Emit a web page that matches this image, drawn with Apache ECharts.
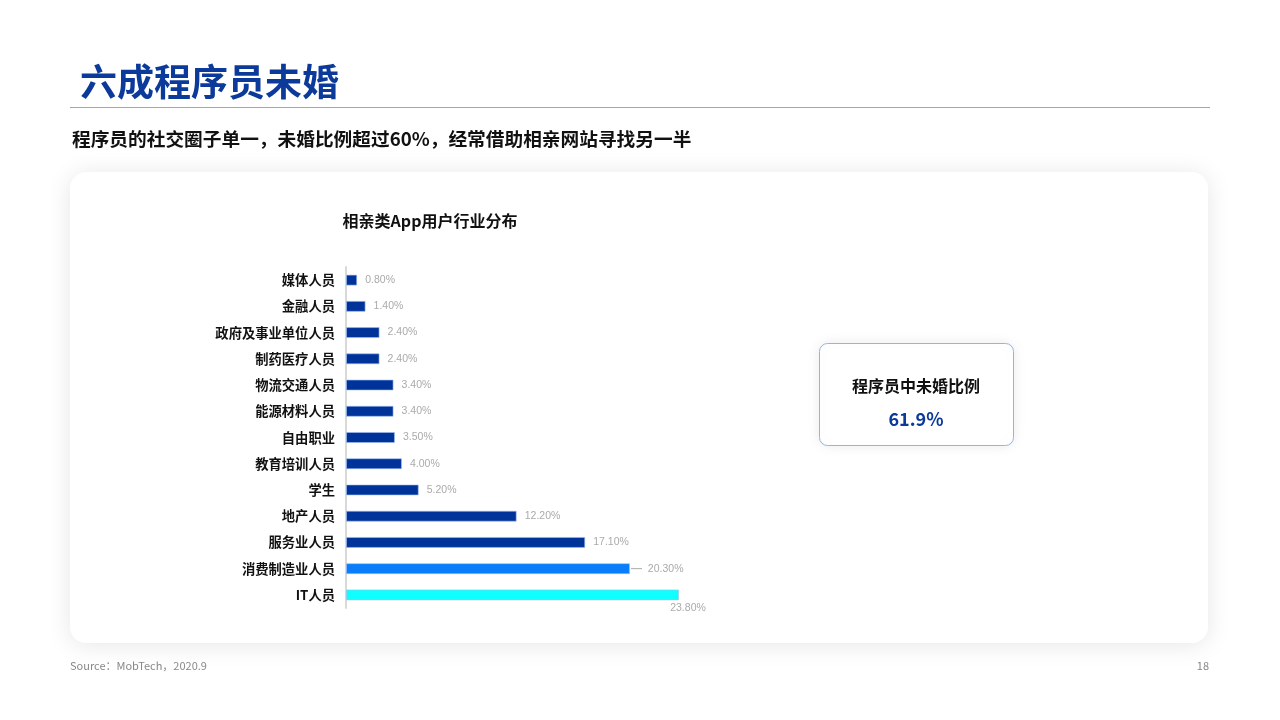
<!DOCTYPE html>
<html>
<head>
<meta charset="utf-8">
<script src="https://cdn.jsdelivr.net/npm/echarts@6/dist/echarts.min.js"></script>
<style>
html,body{margin:0;padding:0;background:#fff;}
#c{width:1280px;height:720px;}
</style>
</head>
<body>
<div id="c"></div>
<script>
const categories = ['媒体人员','金融人员','政府及事业单位人员','制药医疗人员','物流交通人员','能源材料人员','自由职业','教育培训人员','学生','地产人员','服务业人员','消费制造业人员','IT人员'];
const values = [0.8,1.4,2.4,2.4,3.4,3.4,3.5,4.0,5.2,12.2,17.1,20.3,23.8];
const barColors = ['#003399','#003399','#003399','#003399','#003399','#003399','#003399','#003399','#003399','#003399','#003399','#0A7DFA','#0FFFFF'];
const pageTitle = '六成程序员未婚';
const subTitle = '程序员的社交圈子单一，未婚比例超过60%，经常借助相亲网站寻找另一半';
const chartTitle = '相亲类App用户行业分布';
const boxLabel = '程序员中未婚比例';
const boxValue = '61.9%';
const sourceText = 'Source：MobTech，2020.9';
const pageNum = '18';

const FONT = '"Noto Sans CJK SC","Microsoft YaHei",sans-serif';

const data = values.map((v, i) => {
  const item = { value: v, itemStyle: { color: barColors[i], borderColor: 'rgba(160,190,240,0.6)', borderWidth: 1 } };
  if (categories[i] === '消费制造业人员') {
    item.label = { formatter: '{ln|}  {t|' + v.toFixed(2) + '%}', distance: 1 };
  }
  if (categories[i] === 'IT人员') {
    item.label = { position: ['100%', '100%'], align: 'center', verticalAlign: 'top', offset: [9, 2] };
  }
  return item;
});

const chart = echarts.init(document.getElementById('c'));
chart.setOption({
  animation: false,
  backgroundColor: '#fff',
  graphic: [
    { type: 'rect', z: -10, shape: { x: 70, y: 172, width: 1138, height: 471, r: 16 },
      style: { fill: '#fff', shadowBlur: 24, shadowColor: 'rgba(0,0,0,0.10)', shadowOffsetY: 2 } },
    { type: 'text', x: 80, y: 82, style: { text: pageTitle, font: 'bold 37px ' + FONT, fill: '#0B3A9A', textVerticalAlign: 'middle' } },
    { type: 'line', shape: { x1: 70, y1: 107.5, x2: 1210, y2: 107.5 }, style: { stroke: '#a6a6a6', lineWidth: 1 } },
    { type: 'text', x: 72, y: 139, style: { text: subTitle, font: 'bold 18.7px ' + FONT, fill: '#111', textVerticalAlign: 'middle' } },
    { type: 'text', x: 430, y: 221, style: { text: chartTitle, font: 'bold 16px ' + FONT, fill: '#111', textAlign: 'center', textVerticalAlign: 'middle' } },
    { type: 'rect', shape: { x: 819.5, y: 343.5, width: 194, height: 102, r: 8 },
      style: { fill: '#fff', stroke: '#86B8F3', lineWidth: 1, shadowBlur: 14, shadowColor: 'rgba(0,0,0,0.08)' } },
    { type: 'text', x: 916, y: 386, style: { text: boxLabel, font: 'bold 16px ' + FONT, fill: '#111', textAlign: 'center', textVerticalAlign: 'middle' } },
    { type: 'text', x: 916, y: 419, style: { text: boxValue, font: 'bold 18px ' + FONT, fill: '#0B3A9A', textAlign: 'center', textVerticalAlign: 'middle' } },
    { type: 'text', x: 70, y: 666, style: { text: sourceText, font: '11px ' + FONT, fill: '#888', textVerticalAlign: 'middle' } },
    { type: 'text', x: 1209, y: 666, style: { text: pageNum, font: '11px ' + FONT, fill: '#888', textAlign: 'right', textVerticalAlign: 'middle' } }
  ],
  grid: { left: 346, top: 267, width: 333, height: 341, containLabel: false },
  xAxis: { type: 'value', min: 0, max: 23.8, show: false },
  yAxis: {
    type: 'category', data: categories, inverse: true,
    axisLine: { show: true, lineStyle: { color: '#d9d9d9', width: 2 } },
    axisTick: { show: false },
    axisLabel: { margin: 11, color: '#111', fontWeight: 'bold', fontSize: 13.3, fontFamily: FONT },
    splitLine: { show: false }
  },
  series: [{
    type: 'bar', data: data, barWidth: 11,
    label: {
      show: true, position: 'right', distance: 8, color: '#aaaaaa', fontSize: 10.5, fontFamily: 'Arial, "Liberation Sans", sans-serif',
      formatter: p => p.value.toFixed(2) + '%',
      rich: { ln: { width: 11, height: 1, backgroundColor: '#aaa' }, t: { color: '#aaaaaa', fontSize: 10.5, fontFamily: 'Arial, "Liberation Sans", sans-serif' } }
    }
  }]
});
</script>
</body>
</html>
